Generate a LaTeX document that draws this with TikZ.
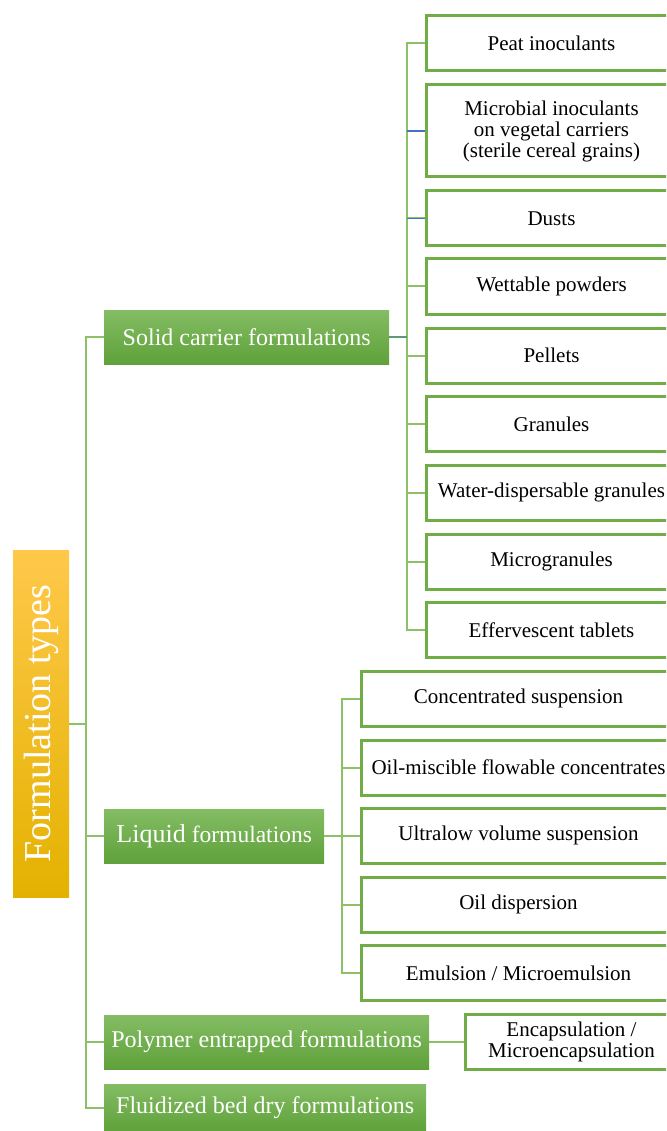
\documentclass[tikz,border=0pt]{standalone}
\usepackage{fontspec}
\setmainfont{Liberation Serif}
\usepackage{graphicx}
\usepackage{tikz}

\definecolor{leafgreen}{HTML}{70AD47}
\definecolor{linkgreen}{HTML}{8CC168}
\definecolor{linkteal}{HTML}{5E9A78}
\definecolor{stubblue}{HTML}{4472C4}
\definecolor{greentop}{HTML}{84BD64}
\definecolor{greenbot}{HTML}{5FA13A}
\definecolor{goldtop}{HTML}{FFC84A}
\definecolor{goldmid}{HTML}{FFC000}
\definecolor{goldbot}{HTML}{E3B200}

\begin{document}
\begin{tikzpicture}[x=1pt,y=-1pt,
    leaf/.style={draw=leafgreen, line width=3pt, fill=white, anchor=west,
        minimum height=55pt, inner sep=0pt, align=center,
        font=\fontsize{21}{21}\selectfont},
    group/.style={anchor=west, minimum height=54pt, inner sep=0pt,
        top color=greentop, bottom color=greenbot, text=white,
        font=\fontsize{24}{24}\selectfont},
    link/.style={draw=linkgreen, line width=2pt}]
    \useasboundingbox (0,0) rectangle (666,1131);
    \clip (0,0) rectangle (666,1131);

	\node[top color=goldtop, middle color=goldmid, bottom color=goldbot, text=white,
	    minimum width=56pt, minimum height=347pt, inner sep=0pt] (types) at (41, 723.5)
	    {\rotatebox{90}{\fontsize{38}{38}\selectfont Formulation types}};

	\node[group, minimum width=285pt] (solid) at (104, 337) {Solid carrier formulations};
	\node[group, minimum width=220pt] (liquid) at (104, 836)
	    {{\fontsize{26}{26}\selectfont Liquid} {\fontsize{23.5}{23.5}\selectfont formulations}};
	\node[group, minimum width=325pt] (polymer) at (104, 1042) {Polymer entrapped formulations};
	\node[group, minimum width=322pt, minimum height=47pt] (fluid) at (104, 1107.5) {Fluidized bed dry formulations};

	% solid carrier
	\node[leaf, minimum width=250pt] (peat) at (425, 43.5) {Peat inoculants};
	\node[leaf, minimum width=250pt, minimum height=92pt] (vegetal) at (425, 131)
	    {Microbial inoculants\\ on vegetal carriers\\ (sterile cereal grains)};
	\node[leaf, minimum width=250pt] (dusts) at (425, 218.5) {Dusts};
	\node[leaf, minimum width=250pt] (powders) at (425, 286.5) {Wettable powders};
	\node[leaf, minimum width=250pt] (pellets) at (425, 355.5) {Pellets};
	\node[leaf, minimum width=250pt] (granules) at (425, 424) {Granules};
	\node[leaf, minimum width=250pt] (wdg) at (425, 492.5) {Water-dispersable granules};
	\node[leaf, minimum width=250pt] (micro) at (425, 561.5) {Microgranules};
	\node[leaf, minimum width=250pt] (tablets) at (425, 630) {Effervescent tablets};

	% liquid
	\node[leaf, minimum width=314pt] (concsusp) at (360, 698.5) {Concentrated suspension};
	\node[leaf, minimum width=314pt] (oilmisc) at (360, 767.5) {Oil-miscible flowable concentrates};
	\node[leaf, minimum width=314pt] (ultralow) at (360, 835.5) {Ultralow volume suspension};
	\node[leaf, minimum width=314pt] (oildisp) at (360, 904.5) {Oil dispersion};
	\node[leaf, minimum width=314pt] (emulsion) at (360, 973) {Emulsion / Microemulsion};

	% polymer
	\node[leaf, minimum width=212pt] (encaps) at (464, 1042) {Encapsulation /\\ Microencapsulation};

	\draw[link] (types.east) -- ++(17,0) coordinate (trunk);
	\foreach \g in {solid, liquid, polymer, fluid}
	    \draw[link] (trunk) |- (\g.west);

	\draw[link] (solid.east) -- ++(18,0) coordinate (sbus);
	\foreach \l in {peat, vegetal, dusts, powders, pellets, granules, wdg, micro, tablets}
	    \draw[link] (sbus) |- (\l.west);
	\draw[line width=2pt, linkteal] (solid.east) -- (sbus);
	\draw[line width=1.5pt, stubblue] (vegetal.west) -- (vegetal.west -| sbus);
	\draw[line width=1.5pt, stubblue] (dusts.west) -- (dusts.west -| sbus);

	\draw[link] (liquid.east) -- ++(18,0) coordinate (lbus);
	\foreach \l in {concsusp, oilmisc, ultralow, oildisp, emulsion}
	    \draw[link] (lbus) |- (\l.west);

	\draw[link] (polymer.east) -- (encaps.west);
\end{tikzpicture}
\end{document}
